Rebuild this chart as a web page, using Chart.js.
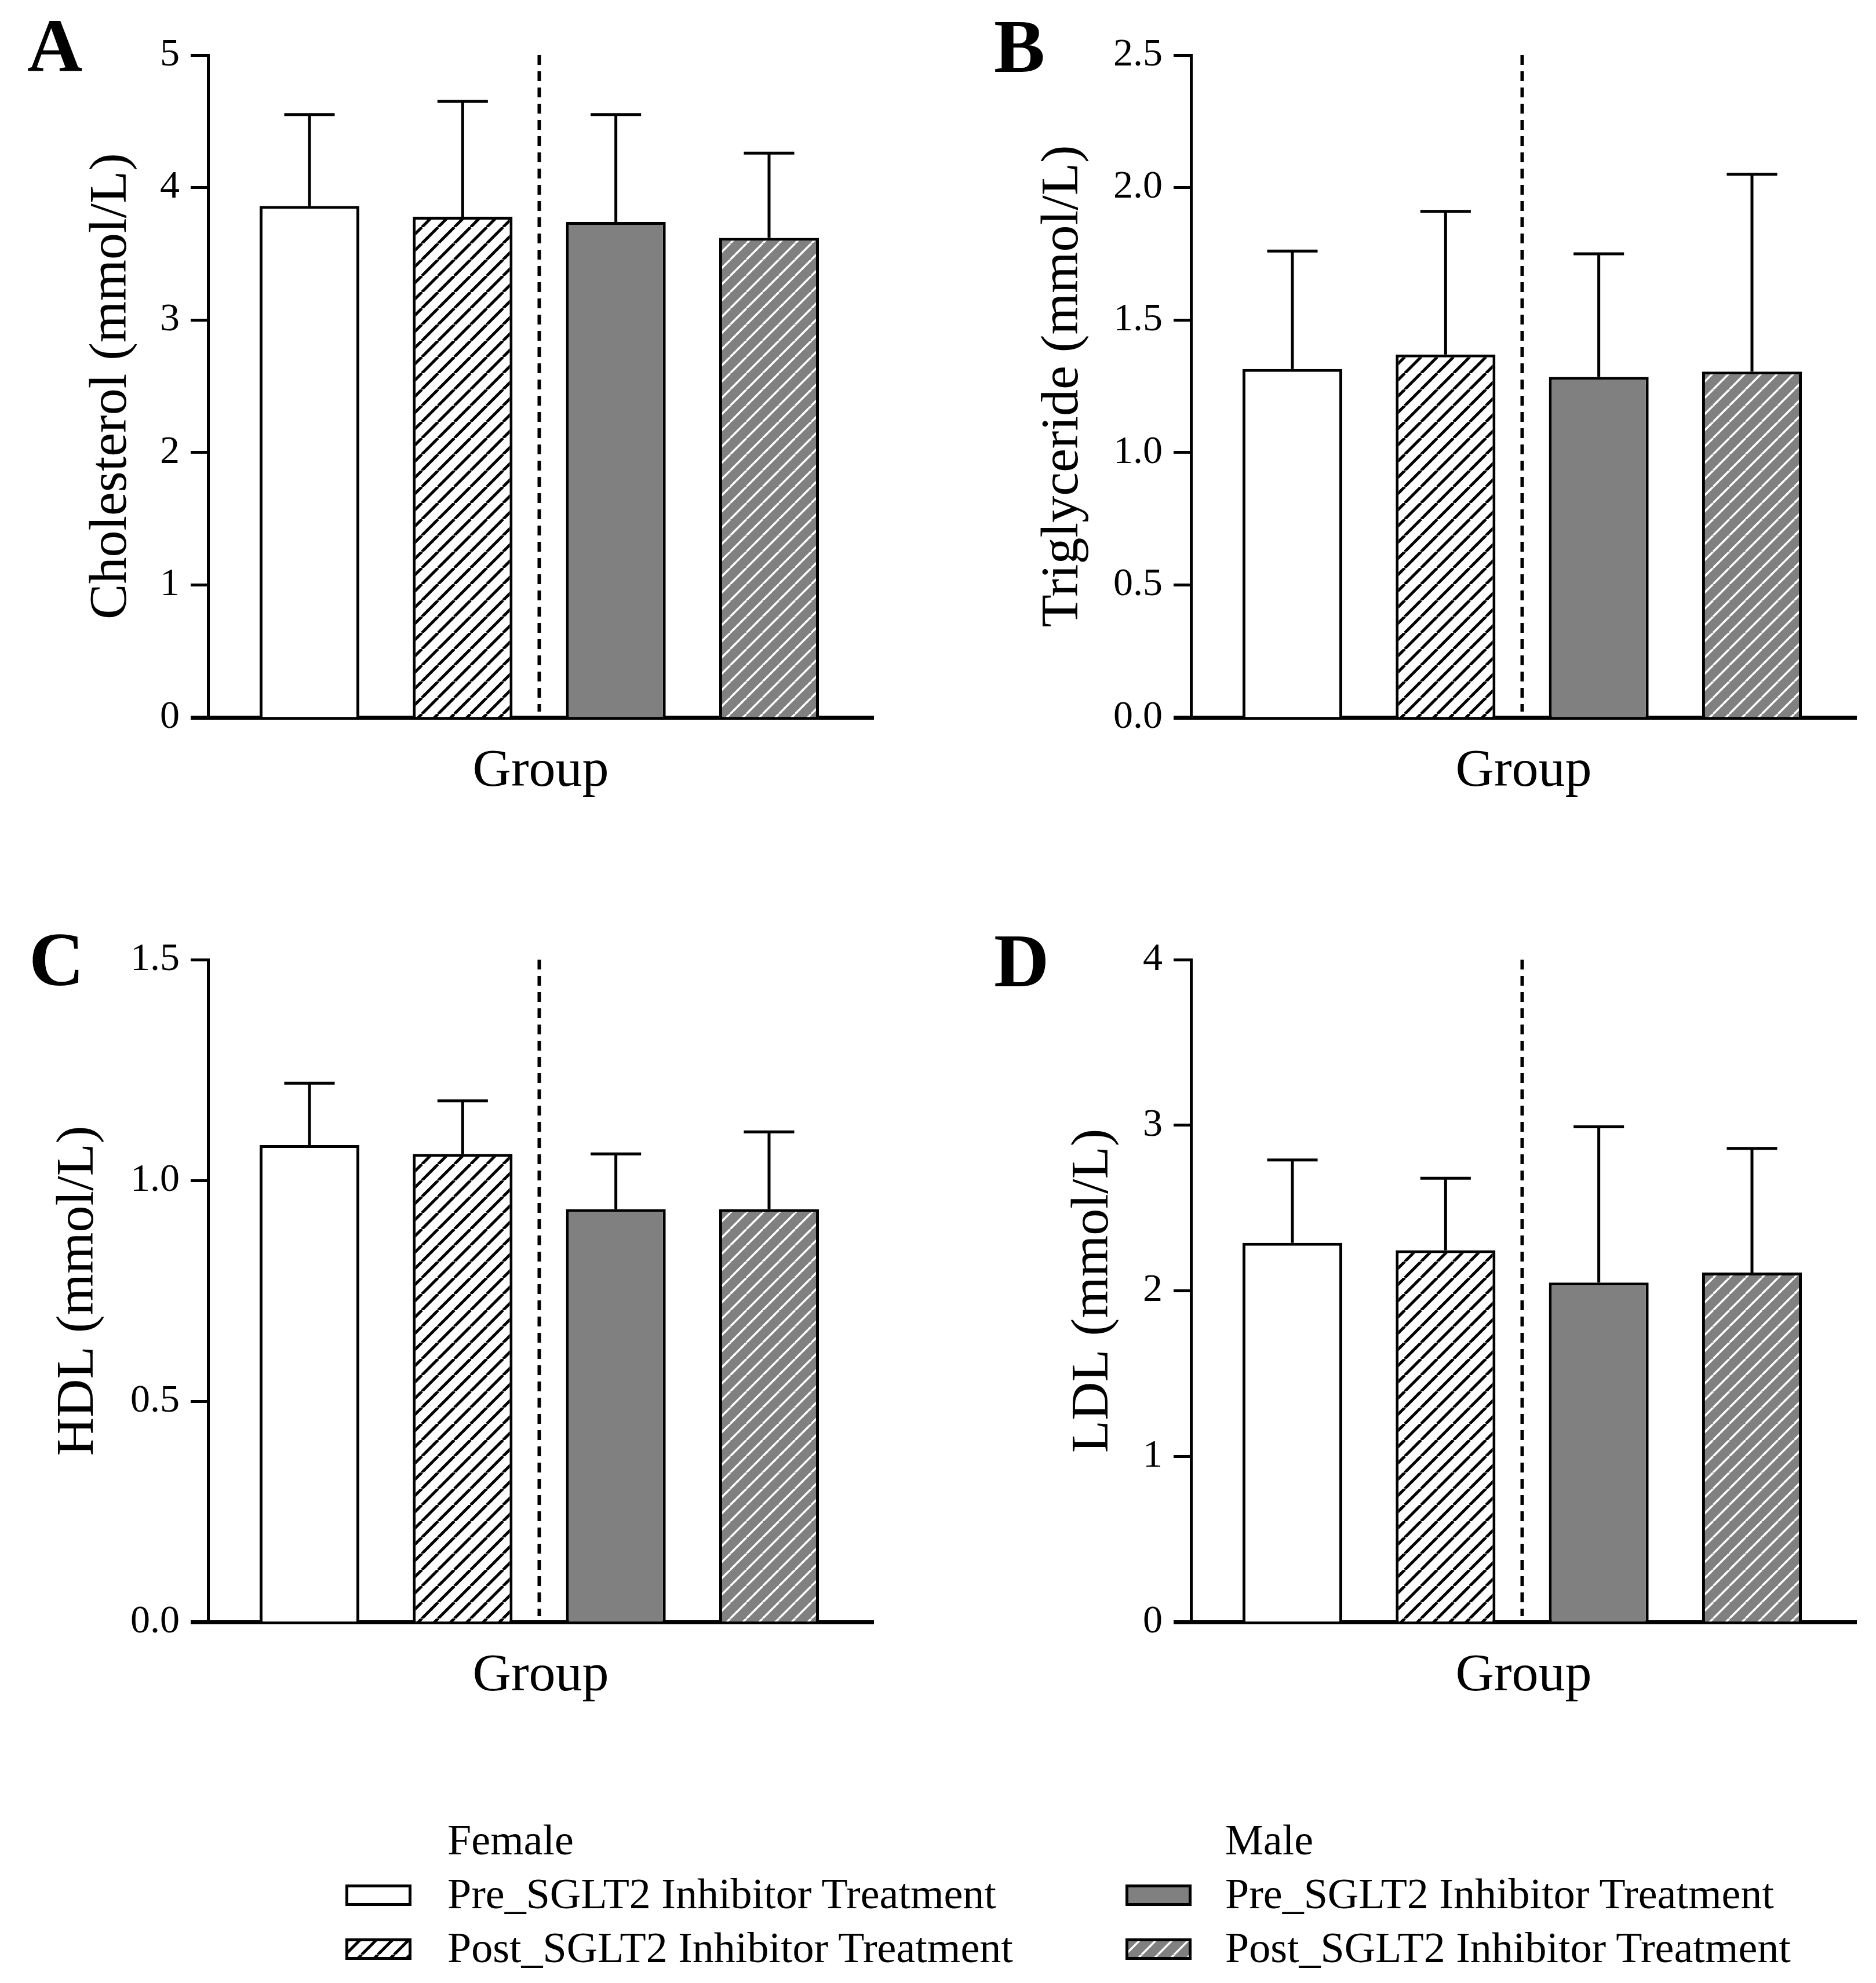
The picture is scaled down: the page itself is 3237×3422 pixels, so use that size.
<!DOCTYPE html>
<html>
<head>
<meta charset="utf-8">
<script src="https://cdn.jsdelivr.net/npm/chart.js@4.4.0/dist/chart.umd.min.js"></script>
<style>
html,body{margin:0;padding:0;background:#fff;}
body{width:3237px;height:3422px;position:relative;overflow:hidden;font-family:'Liberation Serif','Times New Roman',serif;color:#000;}
.panel{position:absolute;width:1541px;height:1400px;}
.letter{position:absolute;font-weight:bold;font-size:132px;line-height:132px;}
.leg{position:absolute;font-size:74px;line-height:74px;white-space:nowrap;}
.sw{position:absolute;width:114px;height:37px;}
</style>
</head>
<body>
<div class="letter" style="left:47px;top:13px">A</div>
<div class="letter" style="left:1715px;top:14px">B</div>
<div class="letter" style="left:50px;top:1590px">C</div>
<div class="letter" style="left:1715px;top:1592px">D</div>

<div class="panel" style="left:0px;top:0px"><canvas id="cA"></canvas></div>
<div class="panel" style="left:1696px;top:0px"><canvas id="cB"></canvas></div>
<div class="panel" style="left:0px;top:1561px"><canvas id="cC"></canvas></div>
<div class="panel" style="left:1696px;top:1561px"><canvas id="cD"></canvas></div>

<div class="leg" style="left:772px;top:3138px">Female</div>
<canvas class="sw" id="sw0" width="114" height="37" style="left:596px;top:3252px"></canvas>
<div class="leg" style="left:772px;top:3231px">Pre_SGLT2 Inhibitor Treatment</div>
<canvas class="sw" id="sw1" width="114" height="37" style="left:596px;top:3345px"></canvas>
<div class="leg" style="left:772px;top:3324px">Post_SGLT2 Inhibitor Treatment</div>

<div class="leg" style="left:2114px;top:3138px">Male</div>
<canvas class="sw" id="sw2" width="114" height="37" style="left:1942px;top:3252px"></canvas>
<div class="leg" style="left:2114px;top:3231px">Pre_SGLT2 Inhibitor Treatment</div>
<canvas class="sw" id="sw3" width="114" height="37" style="left:1942px;top:3345px"></canvas>
<div class="leg" style="left:2114px;top:3324px">Post_SGLT2 Inhibitor Treatment</div>

<script>
// ---------- data ----------
const groups = ['Female Pre_SGLT2', 'Female Post_SGLT2', 'Male Pre_SGLT2', 'Male Post_SGLT2'];
const groupPos = [1, 2, 3, 4];
const dividerPos = 2.5;

const cholMean = [3.86, 3.78, 3.74, 3.62];
const cholSD   = [0.69, 0.87, 0.81, 0.64];
const trigMean = [1.315, 1.37, 1.285, 1.305];
const trigSD   = [0.445, 0.54, 0.465, 0.745];
const hdlMean  = [1.08, 1.06, 0.935, 0.935];
const hdlSD    = [0.14, 0.12, 0.125, 0.175];
const ldlMean  = [2.29, 2.245, 2.05, 2.11];
const ldlSD    = [0.50, 0.435, 0.94, 0.75];

const cholTicks = [0, 1, 2, 3, 4, 5];
const cholTickLabels = ['0', '1', '2', '3', '4', '5'];
const trigTicks = [0, 0.5, 1.0, 1.5, 2.0, 2.5];
const trigTickLabels = ['0.0', '0.5', '1.0', '1.5', '2.0', '2.5'];
const hdlTicks = [0, 0.5, 1.0, 1.5];
const hdlTickLabels = ['0.0', '0.5', '1.0', '1.5'];
const ldlTicks = [0, 1, 2, 3, 4];
const ldlTickLabels = ['0', '1', '2', '3', '4'];

// ---------- styling helpers ----------
const GRAY = '#808080';
function makePattern(bg, line, lw) {
  const s = 28;
  const c = document.createElement('canvas');
  c.width = s; c.height = s;
  const g = c.getContext('2d');
  g.fillStyle = bg; g.fillRect(0, 0, s, s);
  g.strokeStyle = line; g.lineWidth = lw;
  g.beginPath();
  for (let k = -1; k <= 1; k++) {
    g.moveTo(k * s, s); g.lineTo(k * s + s, 0);
  }
  g.stroke();
  return g.createPattern(c, 'repeat');
}
function fills(ctx) {
  return ['#ffffff', makePattern('#ffffff', '#000000', 5), GRAY, makePattern(GRAY, '#ffffff', 3.5)];
}

Chart.defaults.font.family = "'Liberation Serif', 'Times New Roman', serif";
Chart.defaults.color = '#000';

const errorBarPlugin = {
  id: 'errorBars',
  afterDatasetsDraw(chart, args, opts) {
    const ctx = chart.ctx;
    const x = chart.scales.x, y = chart.scales.y;
    const meta = chart.getDatasetMeta(0);
    const pts = chart.data.datasets[0].data;
    ctx.save();
    ctx.strokeStyle = '#000';
    ctx.lineWidth = 5;
    ctx.lineCap = 'butt';
    meta.data.forEach((bar, i) => {
      const cx = bar.x;
      const yBase = y.getPixelForValue(pts[i].y);
      const yTop = y.getPixelForValue(pts[i].y + opts.sd[i]);
      const half = bar.width * 0.253;
      ctx.beginPath();
      ctx.moveTo(cx, yBase); ctx.lineTo(cx, yTop);
      ctx.moveTo(cx - half, yTop); ctx.lineTo(cx + half, yTop);
      ctx.stroke();
    });
    const dx = x.getPixelForValue(dividerPos);
    ctx.lineWidth = 6;
    ctx.setLineDash([17, 11]);
    ctx.beginPath();
    ctx.moveTo(dx, chart.chartArea.top);
    ctx.lineTo(dx, chart.chartArea.bottom - 10);
    ctx.stroke();
    ctx.restore();
  }
};

function makePanel(id, means, sds, tickVals, tickLabels, yTitle, padLeft) {
  const canvas = document.getElementById(id);
  const ctx = canvas.getContext('2d');
  const yWidth = 359 - padLeft;
  return new Chart(ctx, {
    type: 'bar',
    data: {
      labels: groups,
      datasets: [{
        data: groupPos.map((p, i) => ({ x: p, y: means[i] })),
        backgroundColor: fills(ctx),
        borderColor: '#000',
        borderWidth: 5,
        barPercentage: 0.651,
        categoryPercentage: 1.0
      }]
    },
    options: {
      responsive: true,
      maintainAspectRatio: false,
      animation: false,
      layout: { padding: { left: padLeft, top: 95, right: 34, bottom: 13 } },
      plugins: {
        legend: { display: false },
        tooltip: { enabled: false },
        errorBars: { sd: sds }
      },
      scales: {
        x: {
          type: 'linear',
          offset: false,
          min: 0.338,
          max: 4.681,
          afterBuildTicks: s => { s.ticks = groupPos.map(v => ({ value: v })); },
          grid: { display: false, offset: false },
          ticks: { display: false },
          border: { display: true, color: '#000', width: 7 },
          title: { display: true, text: 'Group', color: '#000', font: { size: 92 }, padding: 0 },
          afterFit: s => { s.height = 149; }
        },
        y: {
          min: tickVals[0],
          max: tickVals[tickVals.length - 1],
          afterBuildTicks: s => { s.ticks = tickVals.map(v => ({ value: v })); },
          grid: {
            display: true, drawOnChartArea: false, drawTicks: true,
            tickLength: 30, color: '#000',
            tickWidth: c => (c.tick && c.tick.value === 0) ? 7 : 5
          },
          border: { display: true, color: '#000', width: 5 },
          ticks: {
            color: '#000', font: { size: 68 }, padding: 19,
            callback: (v, i) => tickLabels[i]
          },
          title: { display: true, text: yTitle, color: '#000', font: { size: 92 }, padding: 0 },
          afterFit: s => { s.width = yWidth; }
        }
      }
    },
    plugins: [errorBarPlugin]
  });
}

makePanel('cA', cholMean, cholSD, cholTicks, cholTickLabels, 'Cholesterol (mmol/L)', 138);
makePanel('cB', trigMean, trigSD, trigTicks, trigTickLabels, 'Triglyceride (mmol/L)', 84);
makePanel('cC', hdlMean, hdlSD, hdlTicks, hdlTickLabels, 'HDL (mmol/L)', 81);
makePanel('cD', ldlMean, ldlSD, ldlTicks, ldlTickLabels, 'LDL (mmol/L)', 136);

// ---------- legend swatches ----------
['sw0', 'sw1', 'sw2', 'sw3'].forEach((id, i) => {
  const c = document.getElementById(id);
  const g = c.getContext('2d');
  g.fillStyle = fills(g)[i];
  g.fillRect(0, 0, c.width, c.height);
  g.strokeStyle = '#000';
  g.lineWidth = 5;
  g.strokeRect(2.5, 2.5, c.width - 5, c.height - 5);
});
</script>
</body>
</html>
